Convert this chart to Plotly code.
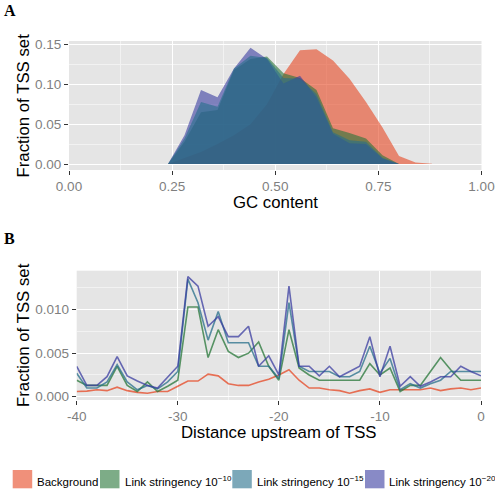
import plotly.graph_objects as go

# ---------------- data ----------------
series_names = ["Background", "Link stringency 10<sup>\u221210</sup>",
                "Link stringency 10<sup>\u221215</sup>", "Link stringency 10<sup>\u221220</sup>"]

gc_x = [0.24, 0.28, 0.32, 0.36, 0.40, 0.44, 0.48, 0.52, 0.56, 0.60, 0.64, 0.68, 0.72, 0.76, 0.80, 0.84, 0.88]
gc_background = [0.0, 0.008, 0.015, 0.025, 0.036, 0.050, 0.075, 0.113, 0.143, 0.144, 0.130, 0.107, 0.078, 0.046, 0.010, 0.002, 0.0004]
gc_link10 = [0.0, 0.028, 0.065, 0.068, 0.118, 0.132, 0.135, 0.114, 0.108, 0.093, 0.045, 0.039, 0.032, 0.011, 0.0, None, None]
gc_link15 = [0.0, 0.032, 0.078, 0.072, 0.120, 0.136, 0.133, 0.108, 0.107, 0.088, 0.040, 0.030, 0.028, 0.008, 0.0, None, None]
gc_link20 = [0.0, 0.036, 0.093, 0.084, 0.120, 0.146, 0.132, 0.101, 0.111, 0.084, 0.038, 0.026, 0.025, 0.007, 0.0, None, None]

dist_x = list(range(-40, 1))
dist_background = [0.0006, 0.00065, 0.0008, 0.0007, 0.0011, 0.0007, 0.0005, 0.0004, 0.0006, 0.0006,
                   0.0012, 0.0018, 0.0018, 0.0026, 0.0024, 0.0015, 0.0013, 0.0013, 0.0017, 0.0020,
                   0.0025, 0.0031, 0.0019, 0.0010, 0.0010, 0.0008, 0.0007, 0.0004, 0.0007, 0.0009,
                   0.0005, 0.0008, 0.0008, 0.0008, 0.0008, 0.0010, 0.0007, 0.0009, 0.0010, 0.0008, 0.0010]
dist_link10 = [0.0019, 0.0013, 0.0013, 0.0013, 0.0035, 0.0013, 0.0006, 0.0017, 0.0006, 0.0012,
               0.0019, 0.0103, 0.0103, 0.0045, 0.0077, 0.0052, 0.0045, 0.0050, 0.0063, 0.0035,
               0.0019, 0.0077, 0.0033, 0.0025, 0.0019, 0.0019, 0.0019, 0.0019, 0.0019, 0.0038,
               0.0025, 0.0033, 0.0006, 0.0013, 0.0013, 0.0029, 0.0045, 0.0031, 0.0019, 0.0019, 0.0019]
dist_link15 = [0.0027, 0.0010, 0.0010, 0.0017, 0.0037, 0.0017, 0.0008, 0.0013, 0.0009, 0.0017,
               0.0029, 0.0135, 0.0108, 0.0065, 0.0098, 0.0062, 0.0062, 0.0062, 0.0035, 0.0035,
               0.0021, 0.0108, 0.0035, 0.0029, 0.0029, 0.0029, 0.0023, 0.0023, 0.0029, 0.0058,
               0.0027, 0.0044, 0.0008, 0.0015, 0.0010, 0.0015, 0.0019, 0.0029, 0.0029, 0.0029, 0.0029]
dist_link20 = [0.0035, 0.0013, 0.0013, 0.0023, 0.0046, 0.0024, 0.0018, 0.0013, 0.0010, 0.0023,
               0.0035, 0.0138, 0.0127, 0.0081, 0.0092, 0.0069, 0.0069, 0.0081, 0.0035, 0.0047,
               0.0025, 0.0127, 0.0035, 0.0035, 0.0024, 0.0035, 0.0023, 0.0029, 0.0035, 0.0069,
               0.0023, 0.0058, 0.0012, 0.0023, 0.0012, 0.0017, 0.0023, 0.0023, 0.0035, 0.0029, 0.0024]

gc_ticks = [0.0, 0.25, 0.5, 0.75, 1.0]
gc_tick_labels = ["0.00", "0.25", "0.50", "0.75", "1.00"]
gcy_ticks = [0.0, 0.05, 0.10, 0.15]
gcy_tick_labels = ["0.00", "0.05", "0.10", "0.15"]
dist_ticks = [-40, -30, -20, -10, 0]
dist_tick_labels = ["-40", "-30", "-20", "-10", "0"]
disty_ticks = [0.0, 0.005, 0.010]
disty_tick_labels = ["0.000", "0.005", "0.010"]

# ---------------- style ----------------
base = [(230, 70, 33), (38, 117, 55), (37, 110, 138), (57, 60, 160)]
fill_alpha = 0.6
line_alpha = 0.75
fills = [f"rgba({r},{g},{b},{fill_alpha})" for r, g, b in base]
lines = [f"rgba({r},{g},{b},{line_alpha})" for r, g, b in base]
fill_draw_order = [0, 1, 3, 2]

W, H = 495, 490
def px(x):
    return x / W
def py(y):
    return 1 - y / H

FONT = "Liberation Sans, Arial, Helvetica, sans-serif"

fig = go.Figure()

gc_series = [gc_background, gc_link10, gc_link15, gc_link20]
for i in fill_draw_order:
    ys = gc_series[i]
    xs = [x for x, y in zip(gc_x, ys) if y is not None]
    yv = [y for y in ys if y is not None]
    fig.add_trace(go.Scatter(x=xs, y=yv, mode="lines", fill="tozeroy",
                             fillcolor=fills[i], line=dict(width=0, color=fills[i]),
                             showlegend=False, xaxis="x", yaxis="y", hoverinfo="skip"))

dist_series = [dist_background, dist_link10, dist_link15, dist_link20]
for i, ys in enumerate(dist_series):
    fig.add_trace(go.Scatter(x=dist_x, y=ys, mode="lines",
                             line=dict(width=1.6, color=lines[i]),
                             showlegend=False, xaxis="x2", yaxis="y2", hoverinfo="skip"))

axis_common = dict(
    showgrid=True, gridcolor="white", gridwidth=1.3, zeroline=False,
    ticks="outside", ticklen=4, tickwidth=1, tickcolor="#333333",
    tickfont=dict(family=FONT, size=13.5, color="#7F7F7F"),
    showline=False, automargin=False,
)
minor_common = dict(showgrid=True, gridcolor="#F2F2F2", gridwidth=0.7, ticks="")

fig.update_layout(
    width=W, height=H,
    margin=dict(l=0, r=0, t=0, b=0, autoexpand=False),
    paper_bgcolor="white", plot_bgcolor="#E5E5E5",
    font=dict(family=FONT),
    xaxis=dict(domain=[px(69), px(481.5)], range=[0, 1], anchor="y",
               tickvals=gc_ticks, ticktext=gc_tick_labels,
               minor=dict(dtick=0.125, tick0=0, **minor_common),
               **axis_common),
    yaxis=dict(domain=[py(170), py(41)], range=[-0.0075, 0.1545], anchor="x",
               tickvals=gcy_ticks, ticktext=gcy_tick_labels,
               minor=dict(dtick=0.025, tick0=0, **minor_common),
               **axis_common),
    xaxis2=dict(domain=[px(76.7), px(481)], range=[-40, 0], anchor="y2",
                tickvals=dist_ticks, ticktext=dist_tick_labels,
                minor=dict(dtick=5, tick0=0, **minor_common),
                **axis_common),
    yaxis2=dict(domain=[py(400), py(270.7)], range=[-0.000375, 0.014475], anchor="x2",
                tickvals=disty_ticks, ticktext=disty_tick_labels,
                minor=dict(dtick=0.0025, tick0=0, **minor_common),
                **axis_common),
)

ann = []
# panel labels
ann.append(dict(text="<b>A</b>", x=px(2), y=py(10), xanchor="left", yanchor="middle",
                font=dict(family="Liberation Serif, Times New Roman, serif", size=16, color="black")))
ann.append(dict(text="<b>B</b>", x=px(2), y=py(238), xanchor="left", yanchor="middle",
                font=dict(family="Liberation Serif, Times New Roman, serif", size=16, color="black")))
# axis titles
title_font = dict(family=FONT, size=16.8, color="black")
ann.append(dict(text="Fraction of TSS set", x=px(23), y=py(105.5), textangle=-90,
                xanchor="center", yanchor="middle", font=title_font))
ann.append(dict(text="Fraction of TSS set", x=px(23), y=py(335), textangle=-90,
                xanchor="center", yanchor="middle", font=title_font))
ann.append(dict(text="GC content", x=px(275), y=py(202.5), xanchor="center", yanchor="middle",
                font=title_font))
ann.append(dict(text="Distance upstream of TSS", x=px(279), y=py(432.5), xanchor="center",
                yanchor="middle", font=title_font))

# legend (manual)
key_x = [12.7, 100, 232.3, 365]
label_x = [35, 122.7, 255, 387.3]
shapes = []
for i in range(4):
    shapes.append(dict(type="rect", xref="paper", yref="paper",
                       x0=px(key_x[i]), x1=px(key_x[i] + 19.5), y0=py(488.3), y1=py(470),
                       fillcolor=fills[i], line=dict(width=0)))
    ann.append(dict(text=series_names[i], x=px(label_x[i]), y=py(490), xanchor="left",
                    yanchor="bottom", font=dict(family=FONT, size=11.5, color="black")))

for a in ann:
    a.update(xref="paper", yref="paper", showarrow=False)
fig.update_layout(annotations=ann, shapes=shapes)

fig.write_html("out.html", config={"displayModeBar": False},
               post_script="document.body.style.margin='0px';document.body.style.padding='0px';")
